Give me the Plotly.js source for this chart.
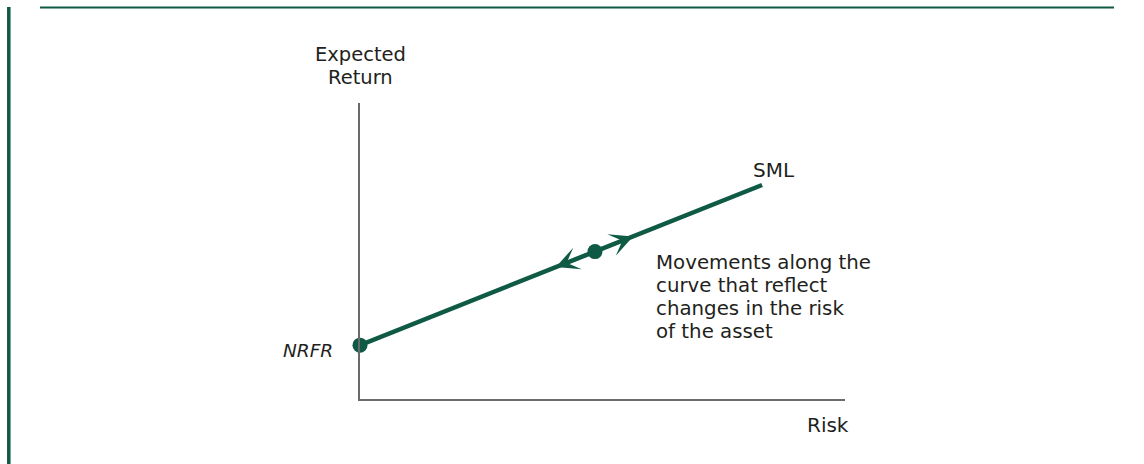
<!DOCTYPE html>
<html>
<head>
<meta charset="utf-8">
<script src="https://cdn.plot.ly/plotly-3.0.1.min.js"></script>
<style>
html,body{margin:0;padding:0;background:#fff;}
#chart{width:1144px;height:464px;}
</style>
</head>
<body>
<div id="chart"></div>
<script>
// Data (axis units: 0..1 on both axes)
const smlRisk = [0, 0.829];
const smlReturn = [0.182, 0.723];
const dotRisk = [0, 0.4845];
const dotReturn = [0.182, 0.498];
const arrowTipRisk = [0.563, 0.404];
const arrowTipReturn = [0.549, 0.446];
const lineLabel = 'SML';
const pointLabel = 'NRFR';
const xTitle = 'Risk';
const yTitleLines = ['Expected', 'Return'];
const noteLines = ['Movements along the', 'curve that reflect', 'changes in the risk', 'of the asset'];

const green = '#0f5a44';
const textColor = '#231f20';
const axisColor = '#6a6a6a';
const fontFam = '"DejaVu Sans", "Open Sans", sans-serif';

const traces = [
  {x: smlRisk, y: smlReturn, mode: 'lines', line: {color: green, width: 4.5}, hoverinfo: 'skip', cliponaxis: false},
  {x: dotRisk, y: dotReturn, mode: 'markers', marker: {color: green, size: 15}, hoverinfo: 'skip', cliponaxis: false}
];

const W = 1144, H = 464;
const L = 360, R = 299, T = 103, B = 65;
const pw = W - L - R, ph = H - T - B;
const px = v => (v - L) / pw;        // pixel x -> paper
const py = v => (H - B - v) / ph;    // pixel y -> paper

const annotations = [];
arrowTipRisk.forEach((tx, i) => {
  annotations.push({
    x: tx, y: arrowTipReturn[i], xref: 'x', yref: 'y',
    ax: dotRisk[1], ay: dotReturn[1], axref: 'x', ayref: 'y',
    text: '', showarrow: true, arrowhead: 3, arrowsize: 1.1, arrowwidth: 3.5,
    arrowcolor: green, standoff: 0, startstandoff: 0
  });
});
function label(xp, yp, text, size, anchor) {
  annotations.push({x: px(xp), y: py(yp), xref: 'paper', yref: 'paper', text: text, showarrow: false,
    xanchor: anchor || 'center', yanchor: 'middle', borderpad: 0,
    font: {family: fontFam, size: size, color: textColor}});
}
label(774, 170, lineLabel, 20);
label(308, 350.5, '<i>' + pointLabel + '</i>', 18.5);
label(828, 424.5, xTitle, 20);
yTitleLines.forEach((t, i) => label(360, 54.5 + 23 * i, t, 19.5));
noteLines.forEach((t, i) => label(655, 262 + 23 * i, t, 19.8, 'left'));

const shapes = [
  {type: 'line', xref: 'paper', yref: 'paper', x0: px(40), x1: px(1114), y0: py(7.5), y1: py(7.5),
    line: {color: green, width: 1.8}},
  {type: 'line', xref: 'paper', yref: 'paper', x0: px(8.8), x1: px(8.8), y0: py(7), y1: py(464),
    line: {color: green, width: 3.5}}
];

const axisBase = {range: [0, 1], showgrid: false, zeroline: false, showticklabels: false, ticks: '',
  showline: true, linecolor: axisColor, linewidth: 2, fixedrange: true};

const layout = {
  width: W, height: H,
  margin: {l: L, r: R, t: T, b: B, pad: 0},
  paper_bgcolor: '#ffffff', plot_bgcolor: '#ffffff',
  showlegend: false,
  xaxis: Object.assign({}, axisBase),
  yaxis: Object.assign({}, axisBase),
  annotations: annotations,
  shapes: shapes
};

Plotly.newPlot('chart', traces, layout, {staticPlot: true, displayModeBar: false});
</script>
</body>
</html>
